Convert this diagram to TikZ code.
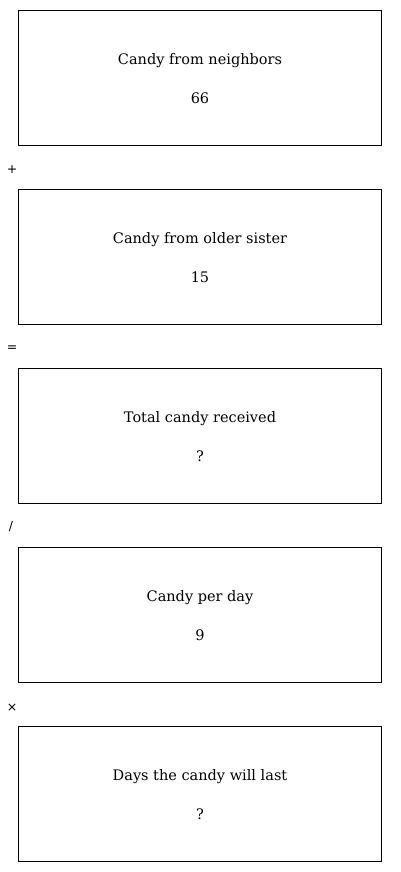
\documentclass[tikz,border=0pt]{standalone}
\usepackage{fontspec}
\setmainfont{DejaVu Serif}
\newfontfamily\opfont{DejaVu Sans}
\begin{document}
\begin{tikzpicture}[x=1pt,y=-1pt,
  box/.style={draw, line width=0.9pt, minimum width=363pt, minimum height=135pt, inner sep=0pt},
  lbl/.style={font=\fontsize{14.5}{16}\selectfont, anchor=center},
  op/.style={font=\opfont\fontsize{12.5}{14}\selectfont, anchor=center}]
\useasboundingbox (0,0) rectangle (400,872);
\foreach \i/\t/\v in {0/Candy from neighbors/66, 1/Candy from older sister/15, 2/Total candy received/?, 3/Candy per day/9, 4/Days the candy will last/?}{
  \node[box] (b\i) at (200, 78+179*\i) {};
  \node[lbl] (t\i) at (200, 61+179*\i) {\t};
  \node[lbl] (v\i) at (200, 98.5+179*\i) {\v};
}
\node[op] (o1) at (12,169.5) {+};
\node[op] (o2) at (12,348.5) {=};
\node[op] (o3) at (11,526.5) {/};
\node[op] (o4) at (12,707.5) {×};
\end{tikzpicture}
\end{document}
